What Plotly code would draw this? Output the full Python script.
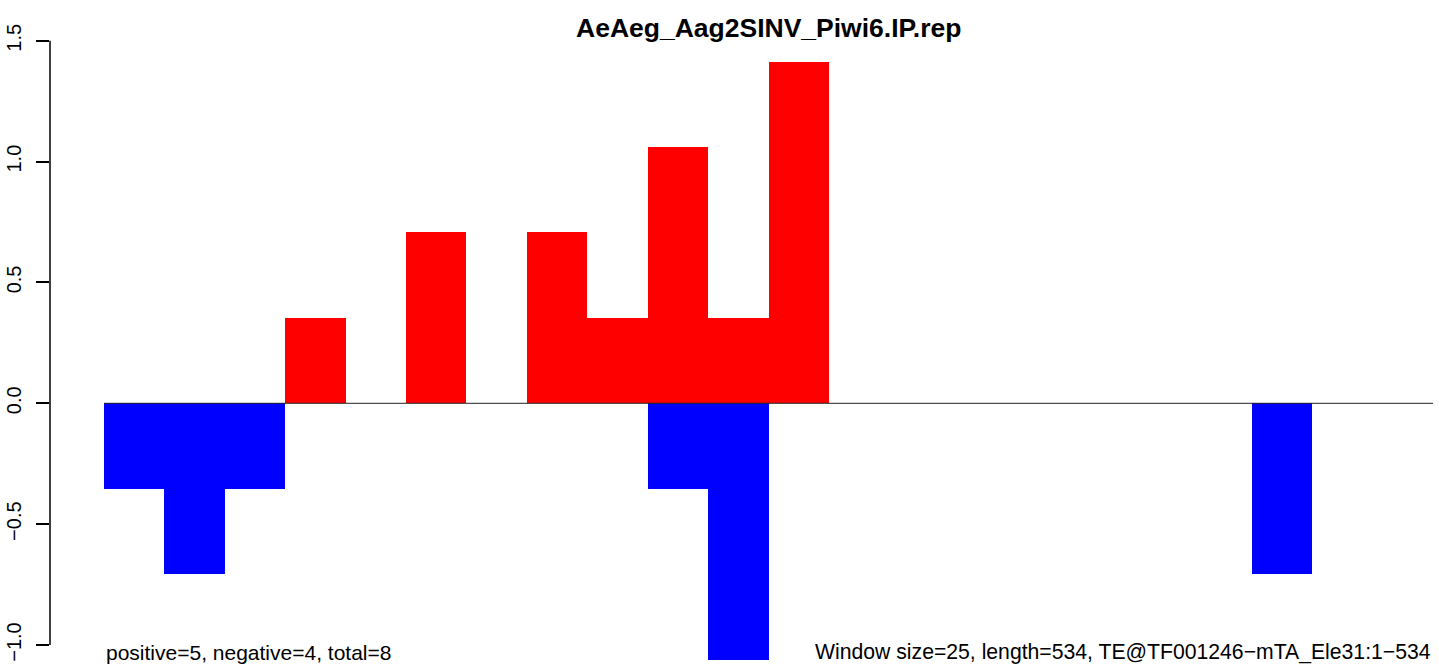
import plotly.graph_objects as go

# Data: one bar per 25-nt window (22 windows, length 534)
window_index = list(range(22))
positive_vals = [0, 0, 0, 0.354, 0, 0.707, 0, 0.707, 0.354, 1.061, 0.354, 1.414,
                 0, 0, 0, 0, 0, 0, 0, 0, 0, 0]
negative_vals = [-0.354, -0.707, -0.354, 0, 0, 0, 0, 0, 0, -0.354, -1.061, 0,
                 0, 0, 0, 0, 0, 0, 0, -0.707, 0, 0]
y_ticks = [-1.0, -0.5, 0.0, 0.5, 1.0, 1.5]
y_tick_labels = ["\u22121.0", "\u22120.5", "0.0", "0.5", "1.0", "1.5"]
title_text = "AeAeg_Aag2SINV_Piwi6.IP.rep"
left_note = "positive=5, negative=4, total=8"
right_note = "Window size=25, length=534, TE@TF001246\u2212mTA_Ele31:1\u2212534"

FONT = "Liberation Sans, Arial, Helvetica, sans-serif"
centers = [i + 0.5 for i in window_index]

fig = go.Figure()
fig.add_trace(go.Bar(x=centers, y=positive_vals, width=1,
                     marker=dict(color="#FF0000", line=dict(width=0)), showlegend=False))
fig.add_trace(go.Bar(x=centers, y=negative_vals, width=1,
                     marker=dict(color="#0000FF", line=dict(width=0)), showlegend=False))

W, H = 1439, 671
L, T = 50, 38
n = len(window_index)
px_per_x = 1329 / n
x0 = (L - 104) / px_per_x
x1 = (W - 104) / px_per_x
px_per_y = 241.7
zero_px = 403.3
y_lo = (zero_px - H) / px_per_y
y_hi = (zero_px - T) / px_per_y


def ypaper(py):
    return (H - py) / (H - T)


fig.update_layout(
    width=W, height=H,
    margin=dict(l=L, r=0, t=T, b=0, pad=0, autoexpand=False),
    paper_bgcolor="white", plot_bgcolor="white",
    barmode="overlay", bargap=0,
    font=dict(family=FONT, size=21, color="black"),
    xaxis=dict(range=[x0, x1], visible=False, showgrid=False, zeroline=False,
               automargin=False),
    yaxis=dict(range=[y_lo, y_hi], showgrid=False, zeroline=False, showline=False,
               automargin=False,
               tickmode="array", tickvals=y_ticks, ticktext=y_tick_labels,
               ticks="outside", ticklen=13, tickwidth=1.5, tickcolor="black",
               tickangle=-90, tickfont=dict(family=FONT, size=20, color="black"),
               ticklabelstandoff=7),
    shapes=[
        dict(type="line", xref="x", yref="y", x0=0, x1=n, y0=0, y1=0,
             line=dict(color="#222222", width=1), layer="above"),
        dict(type="line", xref="paper", yref="y", x0=0, x1=0, y0=y_ticks[0], y1=y_ticks[-1],
             line=dict(color="black", width=1.5), layer="above"),
    ],
    annotations=[
        dict(text="<b>" + title_text + "</b>", x=n / 2, y=ypaper(28),
             xref="x", yref="paper", showarrow=False, xanchor="center", yanchor="middle",
             font=dict(family=FONT, size=26.5, color="black")),
        dict(text=left_note, x=0, y=ypaper(652), xref="x", yref="paper",
             showarrow=False, xanchor="left", yanchor="middle",
             font=dict(family=FONT, size=21, color="black")),
        dict(text=right_note, x=n, y=ypaper(652), xref="x", yref="paper",
             showarrow=False, xanchor="right", yanchor="middle",
             font=dict(family=FONT, size=21.2, color="black")),
    ],
)

fig.write_html("out.html", config={"displayModeBar": False},
               post_script="document.body.style.margin='0';document.body.style.overflow='hidden';")
